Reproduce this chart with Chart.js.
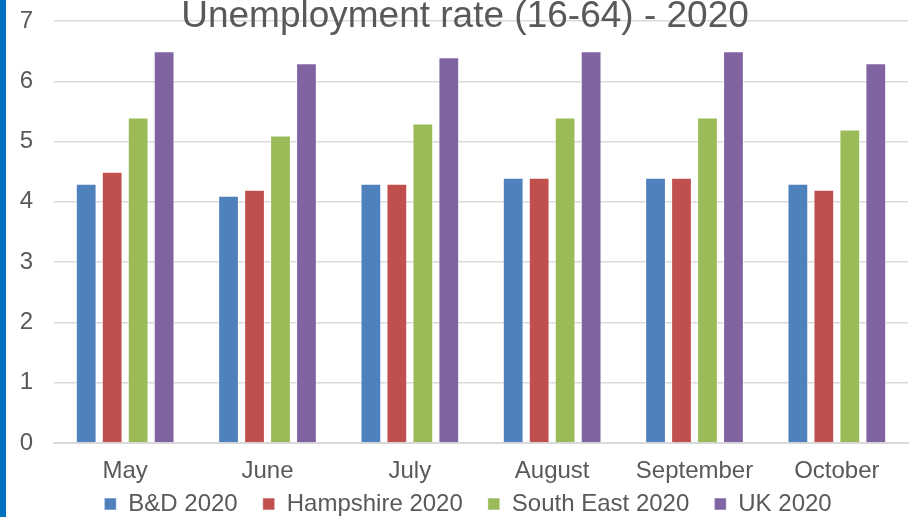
<!DOCTYPE html>
<html>
<head>
<meta charset="utf-8">
<script src="https://cdn.jsdelivr.net/npm/chart.js@4.4.1/dist/chart.umd.min.js"></script>
<style>
  html, body { margin: 0; padding: 0; background: #fff; }
  #wrap { position: relative; width: 912px; height: 517px; overflow: hidden; }
  #strip { position: absolute; left: 0; top: 0; width: 6px; height: 517px; background: #0070c0; }
  #title {
    position: absolute; left: 0; top: -3px; width: 930px; text-align: center;
    font-family: "Liberation Sans", Arial, sans-serif; font-size: 37px; color: #595959;
    line-height: 36px; white-space: nowrap;
  }
</style>
</head>
<body>
<div id="wrap">
  <canvas id="chart" width="912" height="517"></canvas>
  <div id="strip"></div>
  <div id="title">Unemployment rate (16-64) - 2020</div>
</div>
<script>
// values
const months = ['May', 'June', 'July', 'August', 'September', 'October'];
const bd2020 = [4.3, 4.1, 4.3, 4.4, 4.4, 4.3];
const hampshire2020 = [4.5, 4.2, 4.3, 4.4, 4.4, 4.2];
const southEast2020 = [5.4, 5.1, 5.3, 5.4, 5.4, 5.2];
const uk2020 = [6.5, 6.3, 6.4, 6.5, 6.5, 6.3];
const yTicks = [0, 1, 2, 3, 4, 5, 6, 7];

const grey = '#595959';
const font = { family: '"Liberation Sans", Arial, sans-serif', size: 24 };

function series(label, data, color) {
    return {
        label: label,
        data: data,
        backgroundColor: color,
        borderColor: 'rgba(255,255,255,0.55)',
        borderWidth: 1,
        categoryPercentage: 0.73,
        barPercentage: 0.8,
    };
}

// the legend sits closer to the month labels than chart.js allows with this item spacing
const legendNudge = {
    id: 'legendNudge',
    afterLayout(chart) {
        const l = chart.legend;
        l.top -= 20;
        l.bottom = chart.height;
        l.height = l.bottom - l.top;
        l.left += 14; l.right += 14;
    }
};

const ctx = document.getElementById('chart').getContext('2d');
new Chart(ctx, {
    type: 'bar',
    data: {
        labels: months,
        datasets: [
            series('B&D 2020', bd2020, '#4f81bd'),
            series('Hampshire 2020', hampshire2020, '#c0504d'),
            series('South East 2020', southEast2020, '#9bbb59'),
            series('UK 2020', uk2020, '#8064a2'),
        ]
    },
    plugins: [legendNudge],
    options: {
        responsive: false,
        animation: false,
        layout: { padding: { left: 0, right: 4, top: 21, bottom: 0 } },
        plugins: {
            tooltip: { enabled: false },
            legend: {
                position: 'bottom',
                maxHeight: 30,
                labels: {
                    color: grey,
                    font: font,
                    boxWidth: 12,
                    boxHeight: 12,
                    padding: 25,
                }
            }
        },
        scales: {
            x: {
                grid: { display: false },
                border: { color: '#d9d9d9', width: 2 },
                ticks: { color: grey, font: font, padding: 6, maxRotation: 0 },
                afterFit: (s) => { s.height = 44; }
            },
            y: {
                min: 0,
                max: 7,
                afterBuildTicks: (s) => { s.ticks = yTicks.map(v => ({ value: v })); },
                grid: { color: '#d9d9d9', lineWidth: 1.5, drawTicks: false },
                border: { display: false },
                ticks: { color: grey, font: font, padding: 21 },
                afterFit: (s) => { s.width = 54; s.paddingTop = 0; s.paddingBottom = 0; }
            }
        }
    }
});
</script>
</body>
</html>
